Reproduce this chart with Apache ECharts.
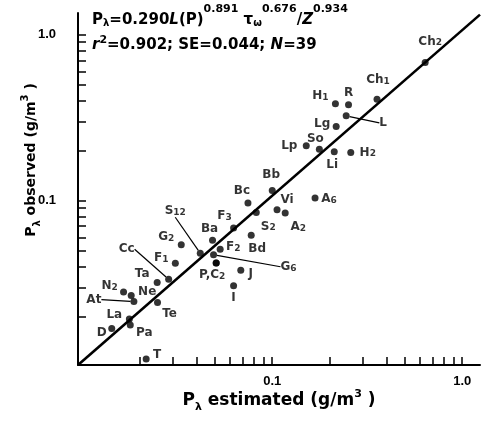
<!DOCTYPE html>
<html><head><meta charset="utf-8">
<script src="https://cdn.jsdelivr.net/npm/echarts@6/dist/echarts.min.js"></script>
<style>html,body{margin:0;padding:0;background:#fff}#c{width:485px;height:423px}</style>
</head><body><div id="c"></div>
<script>
// ---- data ----
const names = ['Ch2','Ch1','H1','R','L','Lg','Lp','So','Li','H2','Bb','Bc','Vi','A2','A6','S2','F3','Bd','Ba','F2','S12','G6','P','C2','J','I','G2','F1','Cc','Ta','N2','Ne','At','Te','La','Pa','D','T'];
const estimated = [0.638,0.356,0.215,0.252,0.245,0.217,0.151,0.177,0.212,0.259,0.100,0.0745,0.106,0.117,0.168,0.0824,0.0626,0.0775,0.0485,0.0532,0.0418,0.0491,0.0507,0.0507,0.0683,0.0626,0.0332,0.0309,0.0285,0.0248,0.0165,0.0181,0.0187,0.0249,0.0177,0.0179,0.0143,0.0217];
const observed  = [0.678,0.408,0.383,0.378,0.324,0.279,0.214,0.204,0.197,0.195,0.115,0.0965,0.0879,0.0840,0.1034,0.0847,0.0682,0.0617,0.0576,0.0508,0.0481,0.0471,0.042,0.042,0.038,0.0306,0.0541,0.0419,0.0335,0.0321,0.0281,0.0268,0.0246,0.0243,0.0193,0.0178,0.0169,0.0111];
const lineEnds = [[0.0095,0.0102],[1.24,1.32]];
const xTickValues = [0.02,0.03,0.04,0.05,0.06,0.07,0.08,0.09,0.1,0.2,0.3,0.4,0.5,0.6,0.7,0.8,0.9,1.0];
const yTickValues = [0.02,0.03,0.04,0.05,0.06,0.07,0.08,0.09,0.1,0.2,0.3,0.4,0.5,0.6,0.7,0.8,0.9,1.0];
const tickLabels = [0.1, 1.0];

// ---- label text / placement (presentation) ----
const labelText = {Ch2:'Ch{s|2}',Ch1:'Ch{s|1}',H1:'H{s|1}',H2:'H{s|2}',A2:'A{s|2}',A6:'A{s|6}',S2:'S{s|2}',F3:'F{s|3}',F2:'F{s|2}',S12:'S{s|12}',G6:'G{s|6}',P:'P,C{s|2}',C2:'',G2:'G{s|2}',F1:'F{s|1}',N2:'N{s|2}'};
const labelOffset = {Ch2:[5,-21],Ch1:[1,-19],H1:[-15,-8],R:[0,-12],L:[37,7],Lg:[-14,-3],Lp:[-17,0],So:[-4,-10],Li:[-2,13],H2:[17,0],Bb:[-1,-16],Bc:[-6,-12],Vi:[10,-10],A2:[13,14],A6:[14,1],S2:[12,14],F3:[-9,-12],Bd:[6,14],Ba:[-3,-11],F2:[13,-2],S12:[-25,-42],G6:[75,12],P:[-4,12],C2:[0,0],J:[10,4],I:[0,12],G2:[-15,-8],F1:[-14,-5],Cc:[-42,-30],Ta:[-15,-9],N2:[-14,-6],Ne:[16,-4],At:[-40,-2],Te:[12,11],La:[-15,-4],Pa:[14,8],D:[-10,4],T:[11,-4]};
const leaders = ['L','S12','G6','Cc','At'];

const FONT = 'DejaVu Sans';
const AXFONT = 'Liberation Sans';
const richLbl = {s:{fontSize:9,fontFamily:FONT,fontWeight:'bold',color:'#000',verticalAlign:'bottom',lineHeight:10}};

const pts = names.map((n,i)=>({
  value:[estimated[i], observed[i]],
  name:n,
  label:{show: labelText[n] !== '', formatter: labelText[n] !== undefined ? labelText[n] : n},
  labelLine:{show: leaders.indexOf(n) >= 0}
}));

function txt(size, extra){ return Object.assign({fontSize:size,fontFamily:FONT,fontWeight:'bold',color:'#000'}, extra||{}); }

const chart = echarts.init(document.getElementById('c'), null, {renderer:'canvas'});
const axisCommon = {
  type:'log', logBase:10,
  axisLine:{show:true, lineStyle:{color:'#000', width:2}},
  splitLine:{show:false}, minorTick:{show:false}, minorSplitLine:{show:false},
  axisLabel:{customValues:tickLabels, color:'#000', fontSize:13, fontFamily:AXFONT, fontWeight:'bold',
    formatter:v=> v > 0.5 ? '1.0' : '0.1'}
};
chart.setOption({
  animation:false,
  backgroundColor:'#fff',
  grid:{left:78, right:5, top:13, bottom:58, containLabel:false, outerBoundsMode:'none'},
  xAxis:Object.assign({}, axisCommon, {min:0.0095, max:1.24,
    axisTick:{inside:true, length:8, customValues:xTickValues, lineStyle:{color:'#000', width:1.5}},
    axisLabel:Object.assign({}, axisCommon.axisLabel, {margin:10})}),
  yAxis:Object.assign({}, axisCommon, {min:0.0102, max:1.35,
    axisTick:{inside:true, length:8, customValues:yTickValues, lineStyle:{color:'#000', width:1.5}},
    axisLabel:Object.assign({}, axisCommon.axisLabel, {margin:22, padding:[6,0,0,0]})}),
  series:[
    {type:'line', data:lineEnds, symbol:'none', lineStyle:{color:'#000', width:2.6}, silent:true, clip:false},
    {type:'scatter', data:pts, symbolSize:7, itemStyle:{color:'#000'},
      label:{position:'inside', color:'#000', fontSize:12, fontFamily:FONT, fontWeight:'bold', rich:richLbl},
      labelLine:{lineStyle:{color:'#000', width:1.2}},
      labelLayout:function(p){ const o = labelOffset[names[p.dataIndex]] || [0,0]; return {dx:o[0], dy:o[1]}; }
    }
  ],
  graphic:[
    {type:'text', left:92, top:4, style:{
      text:'{n|P}{sb|λ}{n|=0.290}{i|L}{n|(P)}{sp|0.891}{n| τ}{sb|ω}{sp|0.676}{n|/}{i|Z}{sp|0.934}',
      rich:{
        n:txt(15,{lineHeight:24,verticalAlign:'bottom'}),
        i:txt(15,{fontStyle:'italic',lineHeight:24,verticalAlign:'bottom'}),
        sp:txt(11,{lineHeight:11,verticalAlign:'top'}),
        sb:txt(10,{lineHeight:10,verticalAlign:'bottom'})
      }}},
    {type:'text', left:92, top:35, style:{
      text:'{i|r}{sp|2}{n|=0.902; SE=0.044; }{i|N}{n|=39}',
      rich:{
        n:txt(15,{lineHeight:18,verticalAlign:'bottom'}),
        i:txt(15,{fontStyle:'italic',lineHeight:18,verticalAlign:'bottom'}),
        sp:txt(11,{lineHeight:11,verticalAlign:'top'})
      }}},
    {type:'text', x:279, y:401, style:{
      text:'{n|P}{sb|λ}{n| estimated (g/m}{sp|3}{n| )}', align:'center', verticalAlign:'middle',
      rich:{
        n:txt(17,{lineHeight:24,verticalAlign:'middle'}),
        sp:txt(11,{lineHeight:11,verticalAlign:'top'}),
        sb:txt(11,{lineHeight:11,verticalAlign:'bottom'})
      }}},
    {type:'text', x:31, y:160, rotation:Math.PI/2, style:{
      text:'{n|P}{sb|λ}{n| observed (g/m}{sp|3}{n| )}', align:'center', verticalAlign:'middle',
      rich:{
        n:txt(14,{lineHeight:22,verticalAlign:'middle'}),
        sp:txt(10,{lineHeight:10,verticalAlign:'top'}),
        sb:txt(10,{lineHeight:10,verticalAlign:'bottom'})
      }}}
  ]
});
</script></body></html>
